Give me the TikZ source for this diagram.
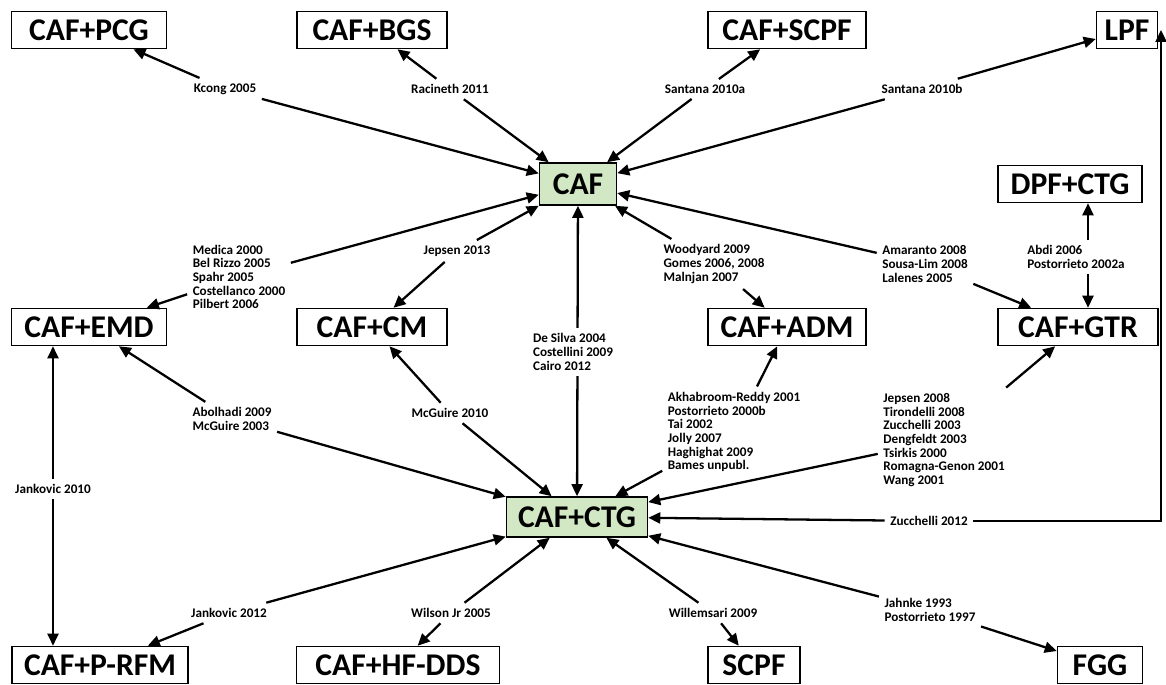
\documentclass[tikz,border=0pt]{standalone}
\usepackage{fontspec}
\setmainfont{Carlito}
\usetikzlibrary{arrows.meta}
\definecolor{boxgreen}{RGB}{210,232,196}
\begin{document}
\begin{tikzpicture}[x=0.02cm,y=-0.02cm,
  box/.style={draw,line width=0.9pt,fill=white,minimum height=0.74cm,inner sep=2pt,font=\fontsize{18}{20}\selectfont\bfseries},
  mainbox/.style={box,fill=boxgreen},
  cite/.style={fill=white,inner sep=3pt,align=left,font=\fontsize{7.5}{7.8}\selectfont\bfseries},
  arr/.style={line width=1.3pt,-{Triangle[length=2.4mm,width=2.2mm]}},
  both/.style={line width=1.3pt,{Triangle[length=2.4mm,width=2.2mm]}-{Triangle[length=2.4mm,width=2.2mm]}}]
\useasboundingbox (0,0) rectangle (1166,685);

\node[box,minimum width=3.1cm] (pcg) at (89,30) {CAF+PCG};
\node[box,minimum width=3cm] (bgs) at (372,30) {CAF+BGS};
\node[box,minimum width=3.16cm] (scpf) at (787,30) {CAF+SCPF};
\node[box,minimum width=1.22cm] (lpf) at (1127,30) {LPF};
\node[mainbox,minimum width=1.54cm,minimum height=0.84cm] (caf) at (578,184) {CAF};
\node[box,minimum width=2.88cm] (dpf) at (1070,184) {DPF+CTG};
\node[box,minimum width=3.1cm] (emd) at (89,327) {CAF+EMD};
\node[box,minimum width=3cm] (cm) at (372,327) {CAF+CM};
\node[box,minimum width=3.16cm] (adm) at (787,327) {CAF+ADM};
\node[box,minimum width=3.2cm] (gtr) at (1078,327) {CAF+GTR};
\node[mainbox,minimum width=2.82cm,minimum height=0.8cm] (ctg) at (577,517) {CAF+CTG};
\node[box,minimum width=3.52cm] (prfm) at (100,665) {CAF+P-RFM};
\node[box,minimum width=4.06cm] (hfdds) at (398,665) {CAF+HF-DDS};
\node[box,minimum width=1.84cm] (scpfb) at (754,665) {SCPF};
\node[box,minimum width=1.7cm] (fgg) at (1100,665) {FGG};

% straight links, covered by their labels
\coordinate (v1) at (53,489);
\coordinate (v2) at (1088,257);
\draw[both] (v1 |- emd.south) -- (v1 |- prfm.north);
\draw[both] (caf) -- (ctg);
\draw[both] (v2 |- dpf.south) -- (v2 |- gtr.north);

\node[cite] (kcong) at (225,89) {Kcong 2005};
\node[cite] (racin) at (450,89) {Racineth 2011};
\node[cite] (santa) at (705,89) {Santana 2010a};
\node[cite] (santb) at (922,89) {Santana 2010b};
\node[cite] (medica) at (239,277) {Medica 2000\\Bel Rizzo 2005\\Spahr 2005\\Costellanco 2000\\Pilbert 2006};
\node[cite] (jeps13) at (457,251) {Jepsen 2013};
\node[cite] (desilva) at (573,352) {De Silva 2004\\Costellini 2009\\Cairo 2012};
\node[cite] (woody) at (714,264) {Woodyard 2009\\Gomes 2006, 2008\\Malnjan 2007};
\node[cite] (amar) at (925,264) {Amaranto 2008\\Sousa-Lim 2008\\Lalenes 2005};
\node[cite] (abdi) at (1076,257) {Abdi 2006\\Postorrieto 2002a};
\node[cite] (abol) at (232,419) {Abolhadi 2009\\McGuire 2003};
\node[cite] (mcg10) at (450,413) {McGuire 2010};
\node[cite] (akhab) at (734,432) {Akhabroom-Reddy 2001\\Postorrieto 2000b\\Tai 2002\\Jolly 2007\\Haghighat 2009\\Bames unpubl.};
\node[cite] (jeps08) at (944,440) {Jepsen 2008\\Tirondelli 2008\\Zucchelli 2003\\Dengfeldt 2003\\Tsirkis 2000\\Romagna-Genon 2001\\Wang 2001};
\node[cite] (zucc) at (929,521) {Zucchelli 2012};
\node[cite] (jank10) at (v1) {Jankovic 2010};
\node[cite] (jank12) at (229,613) {Jankovic 2012};
\node[cite] (wilson) at (451,613) {Wilson Jr 2005};
\node[cite] (willem) at (713,613) {Willemsari 2009};
\node[cite] (jahnke) at (930,610) {Jahnke 1993\\Postorrieto 1997};

\draw[arr] (kcong) -- (pcg);
\draw[arr] (kcong) -- (caf);
\draw[arr] (racin) -- (bgs);
\draw[arr] (racin) -- (caf);
\draw[arr] (santa) -- (scpf);
\draw[arr] (santa) -- (caf);
\draw[arr] (santb) -- (lpf);
\draw[arr] (santb) -- (caf);
\draw[arr] (medica) -- (emd);
\draw[arr] (medica) -- (caf);
\draw[arr] (jeps13) -- (cm);
\draw[arr] (jeps13) -- (caf);
\draw[arr] (woody) -- (adm);
\draw[arr] (woody) -- (caf);
\draw[arr] (amar) -- (gtr);
\draw[arr] (amar) -- (caf);
\draw[arr] (abol) -- (emd);
\draw[arr] (abol) -- (ctg);
\draw[arr] (mcg10) -- (cm);
\draw[arr] (mcg10) -- (ctg);
\draw[arr] (akhab) -- (adm);
\draw[arr] (akhab) -- (ctg);
\draw[arr] (jeps08) -- (gtr);
\draw[arr] (jeps08) -- (ctg);
\coordinate (rc) at (1161,521);
\draw[arr] (zucc) -- (ctg);
\draw[arr] (zucc) -- (rc) -- (rc |- lpf.east);
\draw[arr] (jank12) -- (prfm);
\draw[arr] (jank12) -- (ctg);
\draw[arr] (wilson) -- (hfdds);
\draw[arr] (wilson) -- (ctg);
\draw[arr] (willem) -- (scpfb);
\draw[arr] (willem) -- (ctg);
\draw[arr] (jahnke) -- (fgg);
\draw[arr] (jahnke) -- (ctg);
\end{tikzpicture}
\end{document}
